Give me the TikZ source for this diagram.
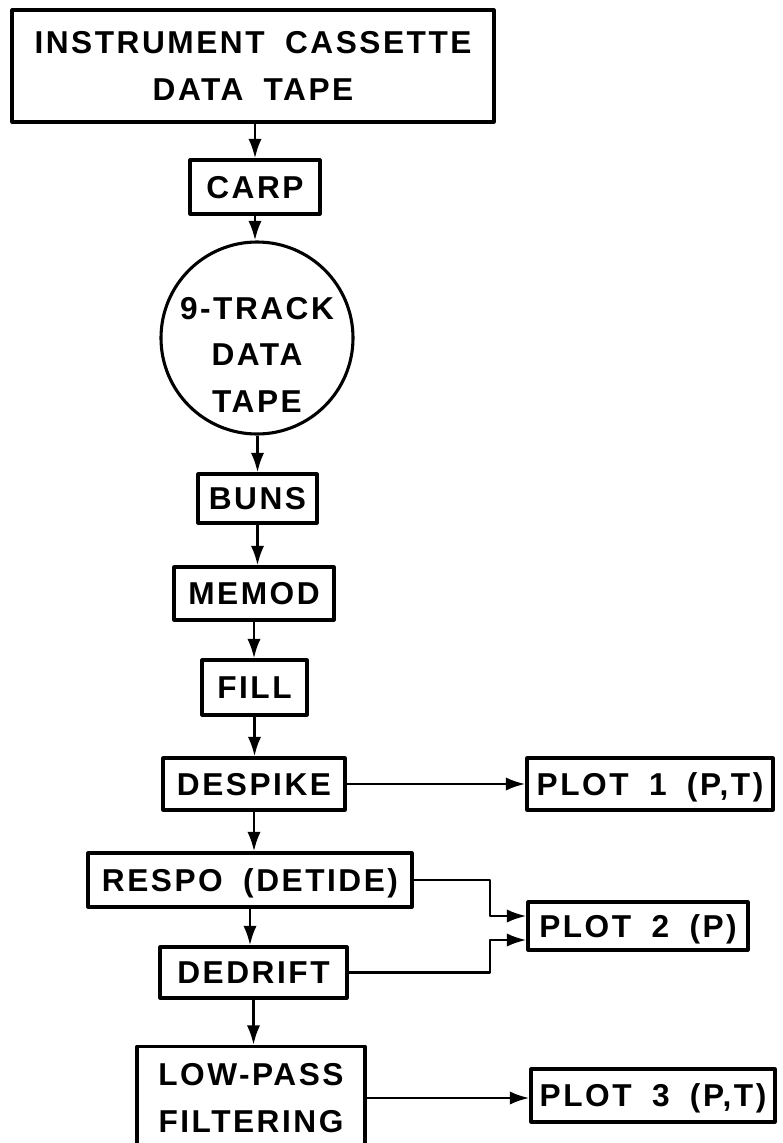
\documentclass[tikz,border=0pt]{standalone}
\usepackage{fontspec}
\usetikzlibrary{arrows.meta, positioning, shapes}
\newfontfamily\plotfont{Liberation Sans}[LetterSpace=8, WordSpace=1.8]
\tikzset{
	stage/.style={draw, line width=2.2pt, inner sep=0pt, align=center,
		font=\plotfont\bfseries\fontsize{22.5}{33}\selectfont},
	single/.style={stage, text height=16pt, text depth=0pt},
	tapedisk/.style={draw, circle, line width=2.2pt, minimum size=4.8cm, inner sep=0pt},
	flow/.style={line width=2pt, -{Latex[length=14pt,width=9.5pt]}}
}

\begin{document}
\begin{tikzpicture}[line join=round]
		\path[use as bounding box, fill=white] (0,0) rectangle (19.575,-28.575);
		% processing chain
		\node[stage, minimum width=12.05cm, minimum height=2.8cm] (cassette) at (6.325,-1.65) {INSTRUMENT CASSETTE\\DATA TAPE};
		\node[single, minimum width=3.25cm, minimum height=1.35cm] (carp) at (6.375,-4.675) {CARP};
		\node[tapedisk] (tape) at (6.425,-8.45) {};
		\node[stage, draw=none] (tapetext) at ([yshift=-0.42cm]tape.center) {9-TRACK\\DATA\\TAPE};
		\node[single, minimum width=2.975cm, minimum height=1.225cm] (buns) at (6.4375,-12.4625) {BUNS};
		\node[single, minimum width=4cm, minimum height=1.325cm] (memod) at (6.35,-14.8375) {MEMOD};
		\node[single, minimum width=2.625cm, minimum height=1.375cm] (fill) at (6.3625,-17.1875) {FILL};
		\node[single, minimum width=4.55cm, minimum height=1.3cm] (despike) at (6.35,-19.6) {DESPIKE};
		\node[single, minimum width=8.1cm, minimum height=1.35cm] (respo) at (6.25,-22) {RESPO (DETIDE)};
		\node[single, minimum width=4.675cm, minimum height=1.275cm] (dedrift) at (6.3375,-24.3125) {DEDRIFT};
		\node[stage, minimum width=5.7cm, minimum height=2.575cm] (lowpass) at (6.275,-27.45) {LOW-PASS\\FILTERING};
		% plots
		\node[single, minimum width=6.15cm, minimum height=1.3cm] (plot1) at (16.25,-19.6) {PLOT 1 (P,T)};
		\node[single, minimum width=5.5cm, minimum height=1.2cm] (plot2) at (15.95,-23.15) {PLOT 2 (P)};
		\node[single, minimum width=6.1cm, minimum height=1.325cm] (plot3) at (16.325,-27.3875) {PLOT 3 (P,T)};
		\coordinate (kink) at (12.25,0);
		% connectors
		\draw[flow] (cassette.south -| carp.north) -- (carp.north);
		\draw[flow] (carp.south) -- (carp.south |- tape.north);
		\draw[flow] (buns.north |- tape.south) -- (buns.north);
		\foreach\a/\b in {buns/memod,memod/fill,fill/despike,despike/respo,respo/dedrift,dedrift/lowpass}
		{
			\draw[flow] (\a.south) -- (\a.south |- \b.north);
		}
		\draw[flow] (despike.east) -- (despike.east -| plot1.west);
		\draw[flow] (respo.east) -- (respo.east -| kink) |- ([yshift=0.25cm]plot2.west);
		\draw[flow] (dedrift.east) -- (dedrift.east -| kink) |- ([yshift=-0.35cm]plot2.west);
		\draw[flow] (lowpass.east) -- (lowpass.east -| plot3.west);
	\end{tikzpicture}
\end{document}
